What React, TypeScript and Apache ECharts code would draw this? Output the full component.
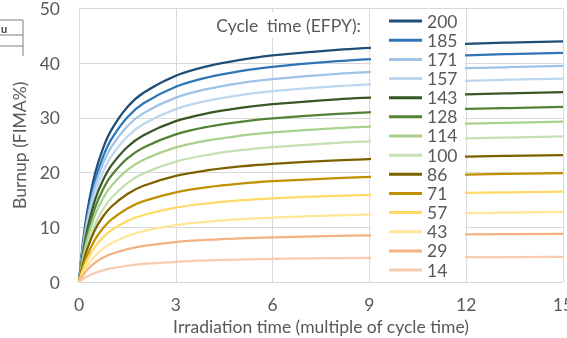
import React, { useEffect, useRef } from "react";
import * as echarts from "echarts";

const irradiationTimes = [0, 0.1, 0.25, 0.5, 0.75, 1, 1.5, 2, 3, 4, 5, 6, 8, 10, 12, 15];

const cycleTimes = ["200", "185", "171", "157", "143", "128", "114", "100", "86", "71", "57", "43", "29", "14"];

const burnup200 = [0, 6.09, 12.7, 19.9, 24.53, 27.76, 31.98, 34.6, 37.7, 39.47, 40.61, 41.41, 42.45, 43.1, 43.55, 44.0];
const burnup185 = [0, 5.61, 11.76, 18.54, 22.96, 26.06, 30.12, 32.67, 35.7, 37.43, 38.55, 39.33, 40.36, 41.01, 41.45, 41.9];
const burnup171 = [0, 5.33, 11.17, 17.58, 21.74, 24.65, 28.47, 30.87, 33.7, 35.32, 36.37, 37.1, 38.06, 38.66, 39.08, 39.5];
const burnup157 = [0, 4.9, 10.3, 16.28, 20.2, 22.96, 26.6, 28.88, 31.6, 33.16, 34.17, 34.88, 35.81, 36.39, 36.79, 37.2];
const burnup143 = [0, 4.5, 9.48, 15.04, 18.69, 21.28, 24.69, 26.84, 29.4, 30.87, 31.83, 32.5, 33.39, 33.94, 34.32, 34.7];
const burnup128 = [0, 4.05, 8.58, 13.66, 17.02, 19.42, 22.59, 24.6, 27.0, 28.38, 29.29, 29.92, 30.75, 31.27, 31.63, 32.0];
const burnup114 = [0, 3.61, 7.67, 12.28, 15.36, 17.55, 20.49, 22.35, 24.6, 25.9, 26.74, 27.34, 28.12, 28.62, 28.95, 29.3];
const burnup100 = [0, 3.03, 6.52, 10.58, 13.35, 15.36, 18.09, 19.86, 22.0, 23.26, 24.09, 24.67, 25.44, 25.93, 26.26, 26.6];
const burnup86 = [0, 2.8, 5.97, 9.59, 12.02, 13.76, 16.1, 17.6, 19.4, 20.44, 21.13, 21.61, 22.24, 22.64, 22.92, 23.2];
const burnup71 = [0, 2.22, 4.8, 7.81, 9.88, 11.39, 13.45, 14.78, 16.4, 17.35, 17.98, 18.42, 19.01, 19.38, 19.64, 19.9];
const burnup57 = [0, 1.84, 3.98, 6.48, 8.2, 9.45, 11.15, 12.25, 13.6, 14.39, 14.91, 15.28, 15.76, 16.07, 16.28, 16.5];
const burnup43 = [0, 1.33, 2.91, 4.79, 6.11, 7.08, 8.42, 9.31, 10.4, 11.05, 11.47, 11.78, 12.18, 12.44, 12.61, 12.8];
const burnup29 = [0, 1.02, 2.18, 3.54, 4.46, 5.12, 6.02, 6.6, 7.3, 7.71, 7.98, 8.17, 8.42, 8.58, 8.69, 8.8];
const burnup14 = [0, 0.46, 1.0, 1.67, 2.14, 2.49, 2.97, 3.3, 3.7, 3.94, 4.1, 4.22, 4.37, 4.47, 4.53, 4.6];

const burnupSeries = [
  burnup200, burnup185, burnup171, burnup157, burnup143, burnup128, burnup114,
  burnup100, burnup86, burnup71, burnup57, burnup43, burnup29, burnup14,
];

const seriesColors = [
  "#1F4E79", "#2E75B6", "#9DC3E6", "#BDD7EE",
  "#375623", "#548235", "#A9D18E", "#C5E0B4",
  "#7F6000", "#BF9000", "#FFD966", "#FFE699",
  "#F4B183", "#F8CBAD",
];

const xTicks = { min: 0, max: 15, interval: 3 };
const yTicks = { min: 0, max: 50, interval: 10 };

const FONT = "Lato, 'Open Sans', sans-serif";
const TXT = "#595959";
const FS = 17.5;

export default function App() {
  const ref = useRef<HTMLDivElement>(null);
  useEffect(() => {
    if (!ref.current) return;
    const chart = echarts.init(ref.current, null, { renderer: "svg" });
    const series = cycleTimes.map((name, i) => ({
      name,
      type: "line",
      data: irradiationTimes.map((t, j) => [t, burnupSeries[i][j]]),
      smooth: 0.35,
      showSymbol: false,
      symbol: "none",
      lineStyle: { width: 2.25, color: seriesColors[i] },
      itemStyle: { color: seriesColors[i] },
      z: 2,
    }));
    chart.setOption({
      animation: false,
      textStyle: { fontFamily: FONT },
      grid: { left: 79, right: 4, top: 8.5, bottom: 56, containLabel: false, outerBoundsMode: "none" },
      xAxis: {
        type: "value",
        ...xTicks,
        name: "Irradiation time (multiple of cycle time)",
        nameLocation: "middle",
        nameGap: 35,
        nameTextStyle: { color: TXT, fontSize: FS, fontFamily: FONT },
        axisLine: { show: false },
        axisTick: { show: false },
        axisLabel: { color: TXT, fontSize: FS, margin: 13, fontFamily: FONT, hideOverlap: false },
        splitLine: { show: true, lineStyle: { color: "#D9D9D9", width: 1 } },
      },
      yAxis: {
        type: "value",
        ...yTicks,
        name: "Burnup (FIMA%)",
        nameLocation: "middle",
        nameGap: 50,
        nameTextStyle: { color: TXT, fontSize: FS, fontFamily: FONT },
        axisLine: { show: false },
        axisTick: { show: false },
        axisLabel: { color: TXT, fontSize: FS, margin: 19, fontFamily: FONT },
        splitLine: { show: true, lineStyle: { color: "#D9D9D9", width: 1 } },
      },
      legend: {
        orient: "vertical",
        left: 389,
        top: 11.5,
        padding: 0,
        itemGap: 0,
        itemWidth: 33,
        itemHeight: 3,
        icon: "rect",
        data: cycleTimes,
        textStyle: { color: TXT, fontSize: FS, lineHeight: 19.15, fontFamily: FONT, padding: [0, 0, 0, 0] },
        z: 5,
      },
      graphic: [
        {
          type: "rect",
          z: 3,
          shape: { x: 371, y: 10, width: 94, height: 271 },
          style: { fill: "#FFFFFF" },
          silent: true,
        },
        {
          type: "text",
          z: 3,
          x: 363,
          y: 25,
          style: {
            text: "Cycle  time (EFPY):",
            fill: TXT,
            fontSize: FS,
            fontFamily: FONT,
            align: "right",
            verticalAlign: "middle",
            backgroundColor: "#FFFFFF",
            padding: [4, 2, 4, 2],
          },
        },
        { type: "line", z: 3, shape: { x1: 0, y1: 20, x2: 23, y2: 20 }, style: { stroke: "#7F7F7F", lineWidth: 1 } },
        { type: "line", z: 3, shape: { x1: 0, y1: 35, x2: 23, y2: 35 }, style: { stroke: "#7F7F7F", lineWidth: 1 } },
        { type: "line", z: 3, shape: { x1: 0, y1: 46, x2: 23, y2: 46 }, style: { stroke: "#7F7F7F", lineWidth: 1 } },
        { type: "line", z: 3, shape: { x1: 23, y1: 20, x2: 23, y2: 56 }, style: { stroke: "#7F7F7F", lineWidth: 1 } },
        {
          type: "text",
          z: 3,
          x: 1,
          y: 28,
          style: { text: "u", fill: "#404040", fontSize: 11, fontWeight: "bold", fontFamily: FONT, verticalAlign: "middle" },
        },
      ],
      series,
    });
    return () => chart.dispose();
  }, []);
  return <div ref={ref} style={{ width: 567, height: 338, position: "fixed", left: 0, top: 0 }} />;
}
